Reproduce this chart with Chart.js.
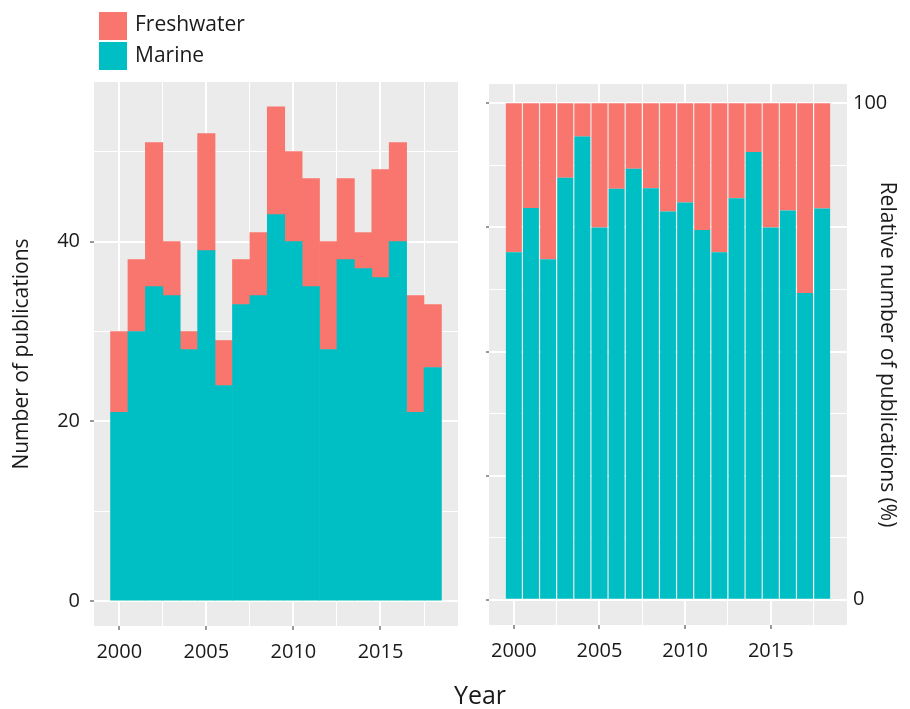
<!DOCTYPE html>
<html>
<head>
<meta charset="utf-8">
<script src="https://cdn.jsdelivr.net/npm/chart.js@4.4.1/dist/chart.umd.min.js"></script>
<style>
  body { margin: 0; background: #fff; font-family: 'Open Sans', sans-serif; color: #1a1a1a; overflow: hidden; }
  #wrap { position: relative; width: 910px; height: 709px; }
  canvas { position: absolute; top: 0; }
  #countChart { left: 0; }
  #shareChart { left: 470px; }
  .key { position: absolute; left: 99px; width: 28px; height: 28px; }
  .keyLabel { position: absolute; left: 135px; font-size: 21px; line-height: 28px; }
  #yearTitle { position: absolute; left: 380px; width: 200px; top: 680px; text-align: center; font-size: 25px; line-height: 28px; }
</style>
</head>
<body>
<div id="wrap">
  <canvas id="countChart" width="470" height="709"></canvas>
  <canvas id="shareChart" width="440" height="709"></canvas>
  <div class="key" style="top:12px;background:#F8766D"></div>
  <div class="keyLabel" style="top:9px">Freshwater</div>
  <div class="key" style="top:42px;background:#00BFC4"></div>
  <div class="keyLabel" style="top:40px">Marine</div>
  <div id="yearTitle">Year</div>
</div>
<script>
// values
const years = [2000, 2001, 2002, 2003, 2004, 2005, 2006, 2007, 2008, 2009,
               2010, 2011, 2012, 2013, 2014, 2015, 2016, 2017, 2018];
const marineCount = [21, 30, 35, 34, 28, 39, 24, 33, 34, 43, 40, 35, 28, 38, 37, 36, 40, 21, 26];
const freshCount = [9, 8, 16, 6, 2, 13, 5, 5, 7, 12, 10, 12, 12, 9, 4, 12, 11, 13, 7];
const marinePct = [70.0, 78.9, 68.6, 85.0, 93.3, 75.0, 82.8, 86.8, 82.9, 78.2,
                   80.0, 74.5, 70.0, 80.9, 90.2, 75.0, 78.4, 61.8, 78.8];
const freshPct = [30.0, 21.1, 31.4, 15.0, 6.7, 25.0, 17.2, 13.2, 17.1, 21.8,
                  20.0, 25.5, 30.0, 19.1, 9.8, 25.0, 21.6, 38.2, 21.2];
const yearTicks = [2000, 2005, 2010, 2015];
const countTicks = [0, 20, 40];
const pctTicks = [0, 100];

const MARINE = '#00BFC4';
const FRESH = '#F8766D';
const TEXT = '#1a1a1a';
const FONT = "'Open Sans', sans-serif";

const panelBg = {
  id: 'panelBg',
  beforeDraw(chart) {
    const a = chart.chartArea;
    const ctx = chart.ctx;
    ctx.save();
    ctx.fillStyle = '#EBEBEB';
    ctx.fillRect(a.left, a.top, a.width, a.height);
    ctx.restore();
  }
};

const pts = vals => vals.map((v, i) => ({ x: years[i], y: v }));

// x axis shared by both panels: majors every 5 years, minors in between
const yearAxis = (h) => ({
  type: 'linear',
  min: 1998.55,
  max: 2019.45,
  stacked: true,
  offset: false,
  border: { display: false },
  grid: {
    offset: false,
    color: '#fff',
    lineWidth: c => yearTicks.includes(c.tick && c.tick.value) ? 2 : 1,
    tickColor: c => yearTicks.includes(c.tick && c.tick.value) ? '#333' : 'rgba(0,0,0,0)',
    tickLength: 4,
    tickWidth: 1
  },
  ticks: {
    stepSize: 2.5,
    includeBounds: false,
    autoSkip: false,
    maxRotation: 0,
    padding: 10,
    color: TEXT,
    font: { family: FONT, size: 20 },
    callback: v => yearTicks.includes(v) ? String(v) : ''
  },
  afterFit: s => {
    s.height = h;
    s.paddingLeft = 0;
    s.paddingRight = 0;
  }
});

new Chart(document.getElementById('countChart'), {
  type: 'bar',
  data: {
    datasets: [
      { label: 'Marine', data: pts(marineCount), backgroundColor: MARINE, borderWidth: 0 },
      { label: 'Freshwater', data: pts(freshCount), backgroundColor: FRESH, borderWidth: 0 }
    ]
  },
  options: {
    responsive: false,
    animation: false,
    barPercentage: 1,
    categoryPercentage: 1,
    layout: { padding: { top: 82, right: 12, left: 0, bottom: 0 } },
    plugins: { legend: { display: false }, tooltip: { enabled: false } },
    scales: {
      x: yearAxis(83),
      y: {
        min: -2.75,
        max: 57.75,
        stacked: true,
        border: { display: false },
        grid: {
          color: '#fff',
          lineWidth: c => countTicks.includes(c.tick && c.tick.value) ? 2 : 1,
          tickColor: c => countTicks.includes(c.tick && c.tick.value) ? '#333' : 'rgba(0,0,0,0)',
          tickLength: 4,
          tickWidth: 1
        },
        ticks: {
          stepSize: 10,
          includeBounds: false,
          padding: 10,
          color: TEXT,
          font: { family: FONT, size: 20 },
          callback: v => countTicks.includes(v) ? String(v) : ''
        },
        title: {
          display: true,
          text: 'Number of publications',
          color: TEXT,
          font: { family: FONT, size: 21 },
          padding: { top: 9, bottom: 0 }
        },
        afterFit: s => { s.width = 94; }
      }
    }
  },
  plugins: [panelBg]
});

const pctMajors = [0, 25, 50, 75, 100];

new Chart(document.getElementById('shareChart'), {
  type: 'bar',
  data: {
    datasets: [
      { label: 'Marine', data: pts(marinePct), backgroundColor: MARINE, borderWidth: 0, yAxisID: 'y' },
      { label: 'Freshwater', data: pts(freshPct), backgroundColor: FRESH, borderWidth: 0, yAxisID: 'y' }
    ]
  },
  options: {
    responsive: false,
    animation: false,
    barPercentage: 0.93,
    categoryPercentage: 1,
    layout: { padding: { top: 84, right: 0, left: 0, bottom: 0 } },
    plugins: { legend: { display: false }, tooltip: { enabled: false } },
    scales: {
      x: yearAxis(84),
      y: {
        position: 'left',
        min: -5.1,
        max: 103.9,
        stacked: true,
        border: { display: false },
        grid: {
          color: '#fff',
          lineWidth: c => pctMajors.includes(c.tick && c.tick.value) ? 2 : 1,
          tickColor: c => pctMajors.includes(c.tick && c.tick.value) ? '#333' : 'rgba(0,0,0,0)',
          tickLength: 3,
          tickWidth: 1
        },
        ticks: { stepSize: 12.5, includeBounds: false, display: false },
        afterFit: s => { s.width = 19; }
      },
      yR: {
        type: 'linear',
        axis: 'y',
        position: 'right',
        min: -5.1,
        max: 103.9,
        border: { display: false },
        grid: { display: true, drawOnChartArea: false, drawTicks: false, color: 'rgba(0,0,0,0)' },
        afterBuildTicks: s => { s.ticks = pctTicks.map(v => ({ value: v })); },
        ticks: {
          display: true,
          autoSkip: false,
          padding: 6,
          color: TEXT,
          font: { family: FONT, size: 20 },
          callback: v => String(v)
        },
        title: {
          display: true,
          text: 'Relative number of publications (%)',
          color: TEXT,
          font: { family: FONT, size: 21 },
          padding: { top: 10, bottom: 0 }
        },
        afterFit: s => { s.width = 63; }
      }
    }
  },
  plugins: [panelBg]
});
</script>
</body>
</html>
